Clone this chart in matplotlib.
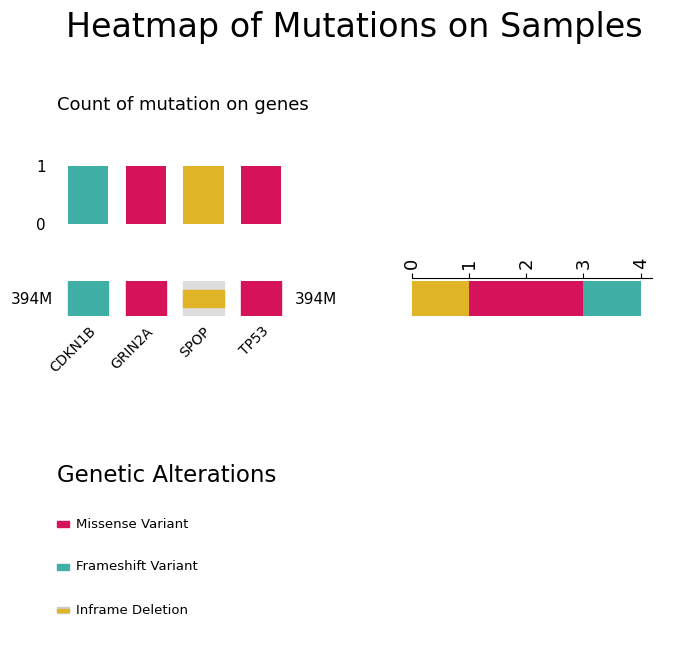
import matplotlib
matplotlib.use('Agg')
import matplotlib.pyplot as plt
from matplotlib.patches import Rectangle

genes = ['CDKN1B', 'GRIN2A', 'SPOP', 'TP53']
gene_type = ['Frameshift Variant', 'Missense Variant', 'Inframe Deletion', 'Missense Variant']
counts = [1, 1, 1, 1]
sample = '394M'
type_order = ['Inframe Deletion', 'Missense Variant', 'Frameshift Variant']
type_counts = [1, 2, 1]
colors = {'Missense Variant': '#d6135a', 'Frameshift Variant': '#40b0a6',
          'Inframe Deletion': '#dfb527'}

W, H = 699, 668
fig = plt.figure(figsize=(W / 100, H / 100), dpi=100)

def px(x0, y0, x1, y1):
    return fig.add_axes([x0 / W, 1 - y1 / H, (x1 - x0) / W, (y1 - y0) / H])

fig.text(354 / W, 1 - 28 / H, 'Heatmap of Mutations on Samples', ha='center', va='center', fontsize=24)
fig.text(57 / W, 1 - 105 / H, 'Count of mutation on genes', ha='left', va='center', fontsize=13)

# top bar
ax = px(59.5, 166, 290, 224)
for i, g in enumerate(genes):
    ax.bar(i, counts[i], width=0.7, color=colors[gene_type[i]])
ax.set_xlim(-0.5, 3.5)
ax.set_ylim(0, 1)
ax.set_yticks([0, 1])
ax.tick_params(axis='y', length=0, labelsize=11, pad=10)
ax.set_xticks([])
for s in ax.spines.values():
    s.set_visible(False)

# heatmap row
ax = px(59.5, 281, 290, 316)
for i, g in enumerate(genes):
    t = gene_type[i]
    if t == 'Inframe Deletion':
        ax.add_patch(Rectangle((i - 0.35, 0), 0.7, 1, color='#dddddd'))
        ax.add_patch(Rectangle((i - 0.35, 0.25), 0.71, 0.5, color=colors[t]))
    else:
        ax.add_patch(Rectangle((i - 0.35, 0), 0.7, 1, color=colors[t]))
ax.set_xlim(-0.5, 3.5)
ax.set_ylim(0, 1)
ax.set_xticks(range(len(genes)))
ax.set_xticklabels(genes, rotation=45, ha='right', rotation_mode='anchor', fontsize=10)
ax.set_yticks([])
ax.tick_params(axis='x', length=0, pad=6)
for s in ax.spines.values():
    s.set_visible(False)
fig.text(53 / W, 1 - 299 / H, sample, ha='right', va='center', fontsize=11)
fig.text(295 / W, 1 - 299 / H, sample, ha='left', va='center', fontsize=11)

# right stacked bar
ax = px(412, 281, 652, 316)
left = 0
for t, c in zip(type_order, type_counts):
    ax.barh(0, c, left=left, height=1, color=colors[t])
    left += c
ax.set_xlim(0, 4.2)
ax.set_ylim(-0.5, 0.5)
ax.xaxis.tick_top()
ax.set_xticks([0, 1, 2, 3, 4])
ax.tick_params(axis='x', labelsize=13, labelrotation=90)
ax.set_yticks([])
for k in ['bottom', 'left', 'right']:
    ax.spines[k].set_visible(False)
ax.spines['top'].set_position(('outward', 2))

# legend
fig.text(57 / W, 1 - 475 / H, 'Genetic Alterations', ha='left', va='center', fontsize=16.5)
for j, t in enumerate(['Missense Variant', 'Frameshift Variant', 'Inframe Deletion']):
    y = 524 + 43 * j
    if t == 'Inframe Deletion':
        fig.patches.append(Rectangle((57 / W, 1 - (y + 3) / H), 12 / W, 6 / H, color='#cccccc', transform=fig.transFigure))
        fig.patches.append(Rectangle((57 / W, 1 - (y + 1.5) / H), 12 / W, 3 / H, color=colors[t], transform=fig.transFigure))
    else:
        fig.patches.append(Rectangle((57 / W, 1 - (y + 3) / H), 12 / W, 6 / H, color=colors[t], transform=fig.transFigure))
    fig.text(76 / W, 1 - y / H, t, ha='left', va='center', fontsize=9.5)

fig.savefig('out.png', dpi=100)
